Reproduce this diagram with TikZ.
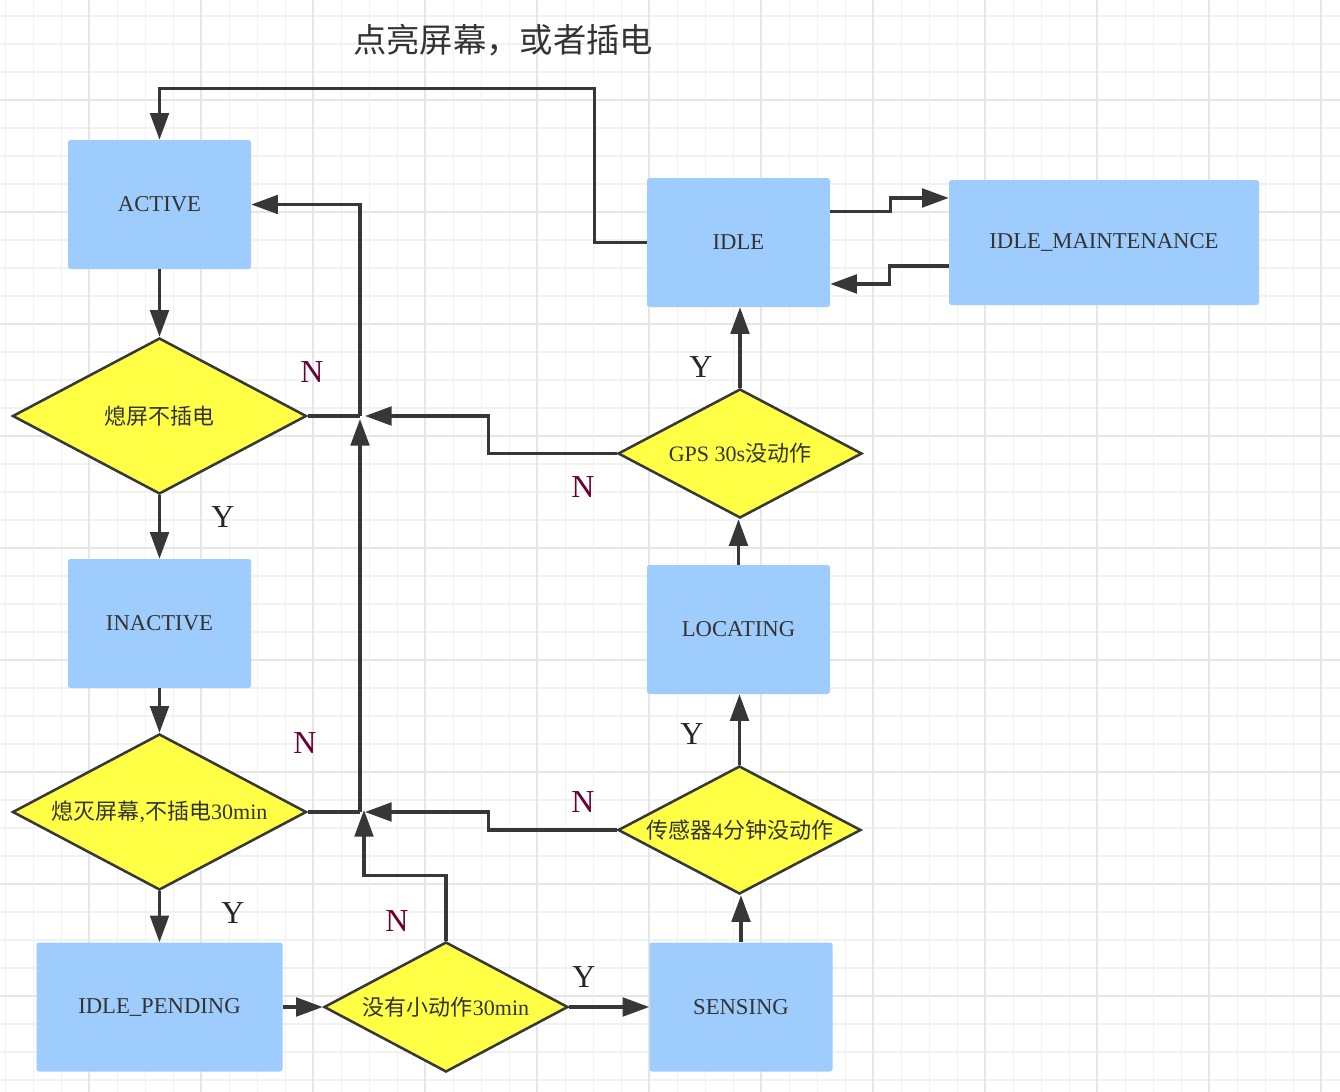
\documentclass[tikz,border=0pt]{standalone}
\usepackage{fontspec}
\setmainfont{Liberation Serif}
\newfontfamily\cjk{Noto Sans CJK SC}
\usetikzlibrary{shapes.geometric,arrows.meta,calc}
\definecolor{boxblue}{RGB}{158,204,253}
\definecolor{diayellow}{RGB}{255,255,70}
\definecolor{linegray}{RGB}{55,55,55}
\definecolor{nred}{RGB}{106,0,53}
\definecolor{txtgray}{RGB}{51,51,51}
\definecolor{gridfine}{RGB}{241,241,241}
\definecolor{gridmajor}{RGB}{230,230,230}

\begin{document}
\begin{tikzpicture}[x=0.75pt,y=0.75pt,yscale=-1,xscale=1,
  state/.style={rectangle, rounded corners=2pt, fill=boxblue, text=txtgray, minimum width=137.25pt, minimum height=96.75pt, inner sep=0pt, font=\fontsize{17}{20}\selectfont},
  decision/.style={diamond, draw=linegray, line width=1.9pt, fill=diayellow, text=txtgray, inner sep=0pt, aspect=1.9, font=\fontsize{16.5}{20}\selectfont},
  link/.style={draw=linegray, line width=2.4pt},
  arr/.style={link, -{Triangle[length=20pt,width=14pt]}},
  nolbl/.style={text=nred, font=\fontsize{24}{28}\selectfont},
  yeslbl/.style={text=black!85, font=\fontsize{24}{28}\selectfont}]
\useasboundingbox (0,0) rectangle (1340,1092);
\fill[white] (0,0) rectangle (1340,1092);

%Grid
\foreach \i in {0,...,47} \draw[gridfine, line width=0.9pt] (5.7+28*\i,0) -- ++(0,1092);
\foreach \i in {0,...,38} \draw[gridfine, line width=0.9pt] (0,16+28*\i) -- ++(1340,0);
\foreach \i in {0,...,11} \draw[gridmajor, line width=1.5pt] (89+112*\i,0) -- ++(0,1092);
\foreach \i in {0,...,8} \draw[gridmajor, line width=1.5pt] (0,100+112*\i) -- ++(1340,0);

%Shape: Rectangle
\node[state] (active) at (159.5,204.5) {ACTIVE};
\node[state] (inactive) at (159.5,623.5) {INACTIVE};
\node[state, minimum width=184.5pt] (pending) at (159.5,1007) {IDLE\_PENDING};
\node[state] (sensing) at (741,1007) {SENSING};
\node[state] (locating) at (738.5,629.5) {LOCATING};
\node[state] (idle) at (738.5,242.5) {IDLE};
\node[state, minimum width=232.5pt, minimum height=93.75pt] (maint) at (1104,242.5) {IDLE\_MAINTENANCE};

%Shape: Diamond
\node[decision, minimum width=220.5pt, minimum height=117pt] (d1) at (159.5,416) {{\cjk 熄屏不插电}};
\node[decision, minimum width=220.5pt, minimum height=117pt] (d2) at (159.5,812) {{\cjk 熄灭屏幕},{\cjk 不插电}30min};
\node[decision, minimum width=183pt, minimum height=97.5pt] (d3) at (446,1007) {{\cjk 没有小动作}30min};
\node[decision, minimum width=182.25pt, minimum height=96pt] (d4) at (739.5,830) {{\cjk 传感器}4{\cjk 分钟没动作}};
\node[decision, minimum width=183pt, minimum height=96.75pt] (d5) at (740,453.5) {GPS 30s{\cjk 没动作}};

\coordinate (j1) at (360,416);
\coordinate (j2) at (360,812);

%Straight Lines
\draw[arr] (idle.west) -- ++(-52,0) -- ++(0,-154) -| (active.north);
\draw[arr] (active.south) -- (d1.north);
\draw[arr] (d1.south) -- (inactive.north);
\draw[link] (d1.east) -- (j1);
\draw[arr] (j2) -- ($(j1)+(0,3)$);
\draw[arr] (j1) |- (active.east);
\draw[arr] (d5.west) -- ++(-128,0) |- ($(j1)+(5,0)$);
\draw[arr] (inactive.south) -- (d2.north);
\draw[link] (d2.east) -- (j2);
\draw[arr] (d4.west) -- ++(-128,0) |- ($(j2)+(5,0)$);
\draw[arr] (d3.north) -- ++(0,-65) -| ($(j2)+(4,-2)$);
\draw[arr] (d2.south) -- (pending.north);
\draw[arr] (pending.east) -- (d3.west);
\draw[arr] (d3.east) -- (sensing.west);
\draw[arr] (sensing.north) -- (sensing.north |- d4.south);
\draw[arr] (d4.north) -- (d4.north |- locating.south);
\draw[arr] (locating.north) -- (locating.north |- d5.south);
\draw[arr] (d5.north) -- (d5.north |- idle.south);
\draw[arr] ([yshift=-23pt]idle.east) -- ++(60,0) |- ([yshift=-33.4pt]maint.west);
\draw[arr] ([yshift=17.6pt]maint.west) -- ++(-59,0) |- ([yshift=31.1pt]idle.east);

% Text Node
\node[text=txtgray, font=\cjk\fontsize{25}{30}\selectfont] (title) at (503,40) {点亮屏幕，或者插电};
\node[nolbl] (n1) at (312,372) {N};
\node[nolbl] (n2) at (583,487) {N};
\node[nolbl] (n3) at (305,743) {N};
\node[nolbl] (n4) at (583,802) {N};
\node[nolbl] (n5) at (397,921) {N};
\node[yeslbl] (y1) at (223,517) {Y};
\node[yeslbl] (y2) at (701,367) {Y};
\node[yeslbl] (y3) at (692,734) {Y};
\node[yeslbl] (y4) at (233,913) {Y};
\node[yeslbl] (y5) at (584,977) {Y};

\end{tikzpicture}
\end{document}
